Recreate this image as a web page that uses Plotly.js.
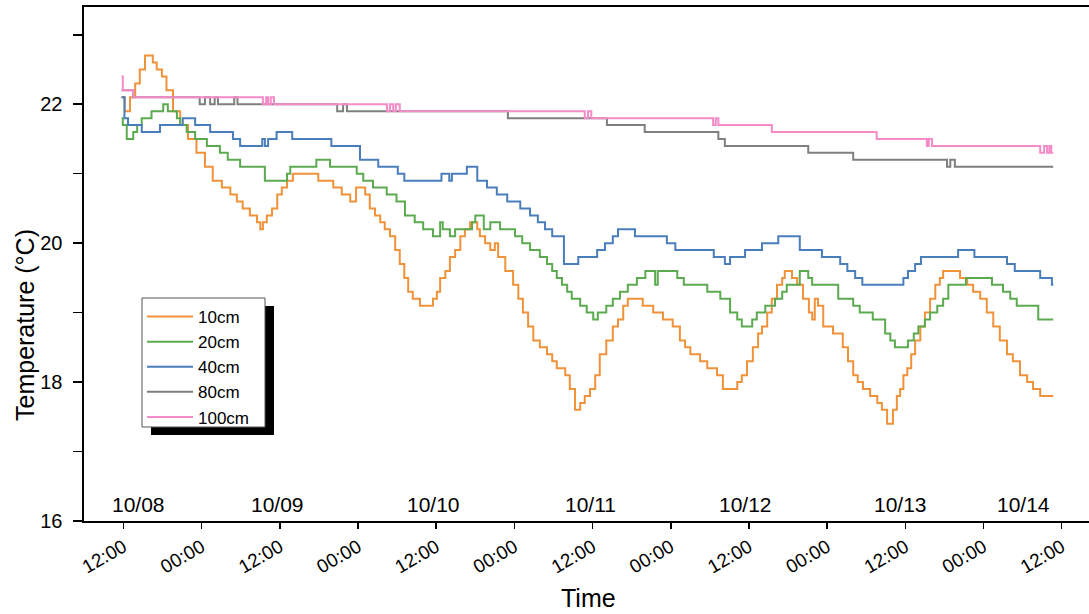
<!DOCTYPE html>
<html>
<head>
<meta charset="utf-8">
<script src="https://cdn.plot.ly/plotly-3.0.1.min.js"></script>
<style>
  html, body { margin: 0; padding: 0; overflow: hidden; background: #fff; }
  #chart { width: 1092px; height: 614px; }
</style>
</head>
<body>
<div id="chart"></div>
<script>
// ---- data: hours since 10/08 00:00, temperatures in °C ----
const series = ['10cm', '20cm', '40cm', '80cm', '100cm'];

const t10 = [11.7,12.2,13.0,13.8,14.5,15.3,16.5,17.1,17.9,18.6,
  19.6,20.7,21.9,23.2,24.5,25.7,27.1,28.4,29.4,30.3,
  31.4,32.5,33.0,33.4,34.0,34.8,35.6,36.3,37.1,38.0,
  41.9,44.2,45.5,46.8,47.7,49.1,49.8,50.6,51.4,52.1,
  52.9,53.7,54.4,55.1,55.7,56.4,57.5,59.5,60.1,60.6,
  61.4,62.1,62.9,63.7,64.4,65.2,66.3,66.7,67.5,68.3,
  69.0,69.5,70.6,71.8,72.6,73.3,74.1,74.9,75.9,77.0,
  77.8,78.5,79.8,80.5,81.3,82.1,82.8,83.6,84.4,85.1,
  86.1,87.1,87.9,88.7,89.4,91.7,93.3,94.8,96.3,97.4,
  98.2,99.0,100.5,101.6,103.1,104.0,106.2,106.9,107.7,108.6,
  109.4,110.0,110.8,111.5,112.3,113.1,113.5,114.6,115.4,116.3,
  117.2,117.7,118.1,118.6,119.4,120.9,122.4,123.2,124.0,124.7,
  125.5,126.6,127.7,128.4,129.2,130.1,130.7,131.2,131.7,132.3,
  132.9,133.5,134.3,135.0,135.8,136.6,137.3,137.8,140.4,141.5,
  142.4,143.5,144.5,145.5,146.5,147.6,148.5,149.6,150.7,151.6,
  152.7,154.7];
const v10 = [22.1,21.9,22.1,22.3,22.5,22.7,22.6,22.5,22.4,22.2,
  21.9,21.7,21.5,21.3,21.1,20.9,20.8,20.7,20.6,20.5,
  20.4,20.3,20.2,20.3,20.4,20.5,20.7,20.8,20.9,21.0,
  20.9,20.8,20.7,20.6,20.8,20.7,20.5,20.4,20.3,20.2,
  20.1,19.9,19.7,19.5,19.3,19.2,19.1,19.2,19.3,19.5,
  19.6,19.8,19.9,20.1,20.2,20.3,20.2,20.1,20.0,19.9,
  20.0,19.8,19.6,19.4,19.2,19.0,18.8,18.6,18.5,18.4,
  18.3,18.2,18.1,17.9,17.6,17.7,17.8,17.9,18.1,18.4,
  18.6,18.8,18.9,19.1,19.2,19.1,19.0,18.9,18.8,18.6,
  18.5,18.4,18.3,18.2,18.1,17.9,18.0,18.1,18.3,18.5,
  18.7,18.8,19.0,19.2,19.4,19.5,19.6,19.5,19.4,19.2,
  19.0,18.9,19.2,19.1,18.8,18.7,18.5,18.3,18.1,18.0,
  17.9,17.8,17.7,17.6,17.4,17.6,17.8,17.9,18.1,18.2,
  18.4,18.6,18.8,19.0,19.2,19.4,19.5,19.6,19.5,19.4,
  19.3,19.2,19.0,18.8,18.6,18.4,18.3,18.1,18.0,17.9,
  17.8,17.8];

const t20 = [11.7,11.9,12.5,13.5,14.1,14.8,16.3,18.1,18.8,20.2,
  20.7,21.7,23.0,24.8,26.8,28.0,29.9,33.7,37.1,37.6,
  41.6,43.7,47.8,48.8,50.3,52.4,53.9,55.2,56.7,58.0,
  59.5,60.6,61.0,62.1,62.9,65.5,66.0,67.3,68.3,69.8,
  72.1,73.2,74.4,75.9,77.0,77.8,78.5,79.3,80.1,80.8,
  82.1,83.1,84.1,84.8,86.1,87.1,88.2,89.4,90.8,92.1,
  93.6,94.0,97.0,98.0,101.6,103.6,105.1,106.2,106.9,108.5,
  109.2,110.5,112.0,113.1,113.8,115.8,117.1,117.7,121.7,124.0,
  125.0,127.0,128.9,129.7,130.4,132.4,133.3,134.0,135.0,135.8,
  136.9,137.8,138.6,141.3,145.3,147.0,148.1,149.1,152.4,154.7];
const v20 = [21.8,21.7,21.5,21.6,21.7,21.8,21.9,22.0,21.9,21.8,
  21.7,21.6,21.5,21.4,21.3,21.2,21.1,20.9,21.0,21.1,
  21.2,21.1,21.0,20.9,20.8,20.7,20.6,20.4,20.3,20.2,
  20.1,20.3,20.2,20.1,20.2,20.3,20.4,20.2,20.3,20.2,
  20.1,20.0,19.9,19.8,19.7,19.6,19.5,19.4,19.3,19.2,
  19.1,19.0,18.9,19.0,19.1,19.2,19.3,19.4,19.5,19.6,
  19.4,19.6,19.5,19.4,19.3,19.2,19.0,18.9,18.8,18.9,
  19.0,19.1,19.2,19.3,19.4,19.6,19.5,19.4,19.2,19.1,
  19.0,18.9,18.7,18.6,18.5,18.6,18.7,18.8,18.9,19.0,
  19.1,19.2,19.4,19.5,19.4,19.3,19.2,19.1,18.9,18.9];

const t40 = [11.7,12.15,12.7,14.8,17.6,21.1,23.0,25.3,28.8,29.9,
  33.3,33.7,34.2,35.5,37.9,43.9,48.3,51.1,54.1,55.1,
  60.8,62.0,62.4,64.7,66.3,67.8,69.3,70.9,72.9,74.4,
  75.6,76.7,77.8,79.6,81.8,84.7,85.9,87.1,87.9,90.5,
  95.4,96.7,102.6,104.3,105.1,107.4,110.0,112.5,115.8,119.2,
  122.0,123.1,124.3,125.4,131.7,132.4,133.5,134.4,140.1,142.6,
  147.6,148.8,152.7,154.5,154.7];
const v40 = [22.1,21.8,21.7,21.6,21.7,21.8,21.7,21.6,21.5,21.4,
  21.5,21.4,21.5,21.6,21.5,21.4,21.2,21.1,21.0,20.9,
  21.0,20.9,21.0,21.1,20.9,20.8,20.7,20.6,20.5,20.4,
  20.3,20.2,20.1,19.7,19.8,19.9,20.0,20.1,20.2,20.1,
  20.0,19.9,19.8,19.7,19.8,19.9,20.0,20.1,19.9,19.8,
  19.7,19.6,19.5,19.4,19.5,19.6,19.7,19.8,19.9,19.8,
  19.7,19.6,19.5,19.4,19.4];

const t80 = [11.7,13.5,23.7,24.5,25.3,26.0,26.5,29.0,29.5,44.8,
  45.7,46.3,71.0,86.2,92.0,103.3,104.3,117.1,124.0,138.4,
  138.9,139.6,154.7];
const v80 = [22.2,22.1,22.0,22.1,22.0,22.1,22.0,22.1,22.0,21.9,
  22.0,21.9,21.8,21.7,21.6,21.5,21.4,21.3,21.2,21.1,
  21.2,21.1,21.1];

const t100 = [11.7,11.9,13.5,33.4,33.9,34.2,34.6,35.1,52.45,52.9,
  53.4,53.8,54.4,82.8,83.3,83.8,102.5,102.9,103.3,111.5,
  127.6,135.3,135.6,136.1,152.7,153.3,153.75,154.1,154.4,154.7];
const v100 = [22.4,22.2,22.1,22.0,22.1,22.0,22.1,22.0,21.9,22.0,
  21.9,22.0,21.9,21.8,21.9,21.8,21.7,21.8,21.7,21.6,
  21.5,21.4,21.5,21.4,21.3,21.4,21.3,21.4,21.3,21.3];

const dayLabels = ['10/08','10/09','10/10','10/11','10/12','10/13','10/14'];

// ---- styling / layout ----
const colors = ['#F0923A', '#5CAA50', '#4A7EBB', '#7F7F7F', '#F58BC8'];
const BASE = Date.UTC(2023, 9, 8, 0, 0, 0);
function toDate(h) {
  return new Date(BASE + h * 3600000).toISOString().replace('T', ' ').slice(0, 19);
}
const ts = [t10, t20, t40, t80, t100];
const vs = [v10, v20, v40, v80, v100];

const traces = series.map((name, i) => ({
  type: 'scatter', mode: 'lines', name: name,
  x: ts[i].map(toDate), y: vs[i],
  line: { color: colors[i], width: 2, shape: 'hv' }
}));

const W = 1092, H = 614;
const L = 84, T = 7, B = 93, R = 0;
const pw = W - L - R, ph = H - T - B;
const px2x = p => (p - L) / pw;
const py2y = p => (H - B - p) / ph;

const dayLabelPx = [138, 277, 433, 590, 745, 900, 1023];
const font = 'Liberation Sans, Arial, sans-serif';

const annotations = dayLabels.map((s, i) => ({
  text: s, xref: 'paper', yref: 'paper',
  x: px2x(dayLabelPx[i]), y: py2y(504),
  xanchor: 'center', yanchor: 'middle', showarrow: false,
  font: { family: font, size: 21, color: '#000' }
}));
annotations.push({
  text: 'Temperature (°C)', xref: 'paper', yref: 'paper',
  x: px2x(25), y: py2y(325), textangle: -90,
  xanchor: 'center', yanchor: 'middle', showarrow: false,
  font: { family: font, size: 25, color: '#000' }
});
annotations.push({
  text: 'Time', xref: 'paper', yref: 'paper',
  x: px2x(588), y: py2y(598),
  xanchor: 'center', yanchor: 'middle', showarrow: false,
  font: { family: font, size: 25, color: '#000' }
});

// legend frame (box + drop shadow), pixel corners
const legBox = { x0: 142, y0: 298, x1: 265, y1: 427 };
const shadowOff = { dx: 9, dy: 8 };

const shapes = [
  {
    type: 'rect', xref: 'paper', yref: 'paper', layer: 'above',
    x0: px2x(legBox.x0 + shadowOff.dx), x1: px2x(legBox.x1 + shadowOff.dx),
    y0: py2y(legBox.y1 + shadowOff.dy), y1: py2y(legBox.y0 + shadowOff.dy),
    fillcolor: '#000', line: { width: 0 }
  },
  {
    type: 'rect', xref: 'paper', yref: 'paper', layer: 'above',
    x0: px2x(legBox.x0), x1: px2x(legBox.x1),
    y0: py2y(legBox.y1), y1: py2y(legBox.y0),
    fillcolor: '#fff', line: { width: 1, color: '#555' }
  }
];

const layout = {
  width: W, height: H,
  margin: { l: L, r: R, t: T, b: B, pad: 0 },
  paper_bgcolor: '#fff', plot_bgcolor: '#fff',
  font: { family: font, size: 18, color: '#000' },
  showlegend: true,
  legend: {
    x: px2x(142), y: py2y(299), xanchor: 'left', yanchor: 'top',
    bgcolor: 'rgba(0,0,0,0)', borderwidth: 0,
    font: { family: font, size: 17, color: '#000' },
    tracegroupgap: 0, itemwidth: 46
  },
  xaxis: {
    type: 'date',
    range: [toDate(5.94), toDate(160.65)],
    tick0: toDate(12), dtick: 43200000, tickformat: '%H:%M',
    tickangle: -30, ticks: 'outside', ticklen: 6, tickwidth: 1.5, tickcolor: '#000',
    showline: true, linecolor: '#000', linewidth: 1.6, mirror: true,
    showgrid: false, zeroline: false,
    tickfont: { family: font, size: 19, color: '#000' }
  },
  yaxis: {
    range: [16, 23.4], dtick: 2, tick0: 16,
    ticks: 'outside', ticklen: 9, tickwidth: 1.5, tickcolor: '#000',
    minor: { dtick: 1, ticks: 'outside', ticklen: 9, tickwidth: 1.5, tickcolor: '#000', showgrid: false },
    showline: true, linecolor: '#000', linewidth: 1.6, mirror: true,
    showgrid: false, zeroline: false, ticklabelstandoff: 7,
    tickfont: { family: font, size: 20, color: '#000' }
  },
  shapes: shapes,
  annotations: annotations
};

Plotly.newPlot('chart', traces, layout, { displayModeBar: false, staticPlot: true });
</script>
</body>
</html>
